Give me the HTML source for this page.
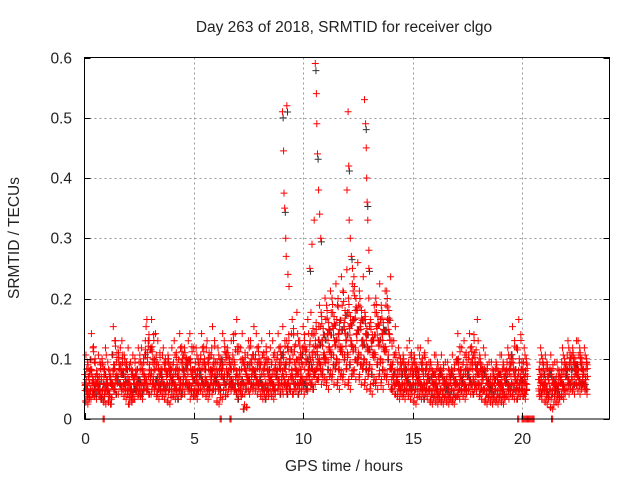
<!DOCTYPE html>
<html><head><meta charset="utf-8">
<style>
body{margin:0;background:#fff;font-family:"Liberation Sans",sans-serif}
svg text{font-family:"Liberation Sans",sans-serif;font-size:15.5px;fill:#222}
</style></head>
<body>
<svg id="chart" width="640" height="480" viewBox="0 0 640 480" xmlns="http://www.w3.org/2000/svg">
<rect width="640" height="480" fill="#fff"/>
<text x="344" y="32" text-anchor="middle">Day 263 of 2018, SRMTID for receiver clgo</text>
<text x="344" y="471" text-anchor="middle">GPS time / hours</text>
<text transform="translate(19,238) rotate(-90)" text-anchor="middle">SRMTID / TECUs</text>
<g id="grid"></g>
<g id="marks"></g>
<rect x="84.5" y="57.5" width="525" height="361.5" fill="none" stroke="#000" stroke-width="1"/>
<g id="ticks"></g>
</svg>
<script>
const xTicks=[0,5,10,15,20];
const yTicks=[0,0.1,0.2,0.3,0.4,0.5,0.6];
const yTickLabels=["0","0.1","0.2","0.3","0.4","0.5","0.6"];
const binStart=0, binWidth=0.25;
const baseline=[
[.06,.04,.08,.05,.07,.03,.09],[.05,.07,.1,.06,.04,.08,.12],[.06,.05,.09,.07,.04,.08,.05],[.07,.03,.06,.09,.05,.1,.04],
[.05,.04,.06,.03,.07,.05,.08],[.06,.09,.11,.05,.07,.08,.13],[.07,.06,.1,.09,.05,.11,.08],[.08,.05,.07,.1,.06,.04,.09],
[.06,.04,.07,.05,.08,.09,.03],[.07,.05,.06,.08,.04,.1,.06],[.05,.09,.07,.06,.1,.04,.08],[.06,.11,.08,.05,.14,.07,.13],
[.07,.1,.06,.12,.05,.08,.14],[.06,.09,.05,.07,.11,.04,.08],[.07,.05,.08,.06,.1,.04,.09],[.06,.08,.05,.1,.07,.03,.09],
[.07,.05,.09,.06,.11,.04,.08],[.08,.06,.1,.05,.12,.07,.04],[.07,.09,.05,.11,.06,.08,.1],[.06,.08,.04,.1,.07,.05,.12],
[.05,.07,.09,.06,.1,.04,.08],[.08,.06,.1,.07,.12,.05,.09],[.07,.05,.08,.06,.11,.04,.1],[.06,.09,.05,.08,.13,.07,.1],
[.07,.05,.09,.06,.1,.03,.08],[.08,.06,.11,.07,.04,.09,.12],[.07,.1,.06,.08,.05,.11,.09],[.06,.09,.12,.05,.08,.14,.07],
[.07,.05,.1,.08,.06,.12,.04],[.06,.08,.05,.11,.07,.09,.02],[.07,.1,.06,.13,.05,.09,.08],[.08,.06,.1,.07,.12,.05,.09],
[.07,.05,.09,.06,.11,.04,.08],[.06,.08,.05,.1,.07,.12,.04],[.07,.05,.09,.06,.11,.04,.08],[.08,.06,.1,.05,.12,.07,.09],
[.07,.09,.05,.11,.06,.08,.13],[.06,.1,.08,.14,.07,.12,.05],[.07,.09,.06,.12,.08,.15,.05],[.08,.11,.06,.13,.07,.1,.05],
[.06,.1,.08,.12,.05,.14,.07],[.07,.09,.12,.06,.15,.08,.11],[.08,.12,.1,.16,.07,.13,.09],[.09,.13,.07,.17,.11,.08,.15],
[.1,.14,.08,.18,.12,.06,.16],[.11,.15,.09,.19,.13,.07,.17],[.1,.14,.08,.2,.12,.06,.16],[.12,.16,.09,.21,.13,.07,.18],
[.11,.15,.08,.19,.13,.06,.17],[.12,.18,.1,.22,.14,.08,.2],[.11,.16,.09,.2,.13,.07,.18],[.1,.14,.08,.17,.12,.06,.15],
[.09,.13,.07,.16,.11,.05,.14],[.11,.15,.08,.19,.13,.06,.17],[.1,.14,.08,.18,.12,.06,.16],[.12,.16,.09,.2,.14,.07,.18],
[.09,.07,.11,.05,.08,.13,.06],[.07,.05,.09,.06,.1,.04,.08],[.06,.08,.05,.1,.07,.04,.09],[.07,.05,.09,.06,.11,.04,.08],
[.06,.08,.05,.1,.07,.03,.09],[.07,.05,.08,.06,.1,.04,.09],[.06,.09,.05,.08,.07,.11,.04],[.05,.07,.04,.09,.06,.03,.08],
[.06,.04,.08,.05,.07,.03,.09],[.05,.07,.04,.08,.06,.03,.09],[.06,.04,.07,.05,.08,.03,.06],[.05,.07,.04,.08,.06,.03,.09],
[.06,.08,.05,.1,.07,.04,.12],[.07,.05,.09,.06,.11,.04,.08],[.08,.06,.1,.07,.12,.05,.09],[.07,.09,.06,.11,.08,.14,.05],
[.06,.08,.05,.1,.07,.04,.09],[.05,.07,.04,.08,.06,.03,.09],[.06,.04,.07,.05,.08,.03,.06],[.05,.07,.04,.09,.06,.03,.08],
[.06,.04,.08,.05,.07,.03,.09],[.07,.05,.09,.06,.1,.04,.08],[.06,.08,.05,.1,.07,.04,.13],[.06,.1,.05,.08,.14,.07,.04],
[.05,.07,.09,.06,.1,.04,.08],[],[],[.05,.07,.09,.06,.1,.04,.08],
[.06,.04,.08,.05,.07,.03,.09],[.05,.07,.04,.08,.06,.02,.09],[.06,.04,.07,.05,.08,.03,.06],[.07,.05,.09,.06,.1,.04,.08],
[.08,.06,.1,.07,.11,.05,.09],[.07,.09,.06,.11,.08,.05,.1],[.08,.06,.1,.07,.09,.05,.11],[.07,.05,.09,.06,.1,.08,.07]
];
const spikeTimes=[9.05,9.1,9.12,9.15,9.2,9.22,9.25,9.3,9.35,10.3,10.4,10.5,10.55,10.6,10.62,10.65,10.7,10.75,10.8,12.0,12.05,12.08,12.1,12.15,12.2,12.25,12.8,12.85,12.88,12.9,12.92,12.95,13.0,13.0];
const spikeValues=[.51,.445,.375,.35,.3,.27,.52,.24,.22,.25,.29,.33,.59,.54,.49,.44,.38,.34,.3,.38,.51,.42,.33,.3,.27,.25,.53,.49,.45,.4,.36,.33,.28,.25];
const zeroTimes=[0.85,0.9,6.2,6.25,6.65,6.7,19.8,19.85,20.0,20.05,20.1,20.15,20.2,20.25,20.3,20.35,20.4,20.45,20.5,20.55,21.35,21.4];
const X0=84.5,XW=525,XMAX=24,Y0=419,YH=361.5,YMAX=0.6;
const sx=t=>X0+t/XMAX*XW, sy=v=>Y0-v/YMAX*YH;
const NS="http://www.w3.org/2000/svg";
const grid=document.getElementById('grid'),ticks=document.getElementById('ticks'),marks=document.getElementById('marks');
function ln(p,x1,y1,x2,y2,st,dash){const l=document.createElementNS(NS,'line');l.setAttribute('x1',x1);l.setAttribute('y1',y1);l.setAttribute('x2',x2);l.setAttribute('y2',y2);l.setAttribute('stroke',st);if(dash)l.setAttribute('stroke-dasharray',dash);p.appendChild(l);return l;}
function tx(p,x,y,s,a){const t=document.createElementNS(NS,'text');t.setAttribute('x',x);t.setAttribute('y',y);t.setAttribute('text-anchor',a);t.textContent=s;p.appendChild(t);return t;}
xTicks.forEach(v=>{const x=Math.round(sx(v))+0.5;
 if(v>0){const g=ln(grid,x,57.5,x,419,'#999','2,3');}
 const a=ln(ticks,x,419,x,413,'#000');
 const t=tx(ticks,x,444,String(v),'middle');});
yTicks.forEach((v,i)=>{const y=Math.round(sy(v))+0.5;
 if(v>0&&v<0.6){const g=ln(grid,84.5,y,609.5,y,'#999','2,3');}
 const a=ln(ticks,84.5,y,90.5,y,'#000');
 const b=ln(ticks,603.5,y,609.5,y,'#000');
 const t=tx(ticks,72,y+5,yTickLabels[i],'end');});
function plus(t,v,col){const x=sx(t),y=sy(v);const p=document.createElementNS(NS,'path');
 p.setAttribute('d',`M${x-3.5},${y}h7M${x},${y-3.5}v7`);p.setAttribute('stroke',col);p.setAttribute('stroke-width','1');
 
 
 marks.appendChild(p);}
const scatterFactors=[1,0.82,1.18,0.93];
const scatterShift=[0,0.11,0.05,0.17];
baseline.forEach((vals,b)=>{vals.forEach((v,j)=>{
 scatterFactors.forEach((f,k)=>{const pos=((j*3+k*2)%7+0.5)/7;
  const t=binStart+b*binWidth+((pos+scatterShift[k])%1)*binWidth;
  if(k===1&&j%3===0)plus(t+0.03,v*f,'#333');
  plus(t,v*f,'#f00');});});});
spikeTimes.forEach((t,i)=>{if(i%3===0)plus(t+0.03,spikeValues[i]*0.98,'#333');plus(t,spikeValues[i],'#f00');});
zeroTimes.forEach(t=>plus(t,0,'#f00'));
</script>
</body></html>
